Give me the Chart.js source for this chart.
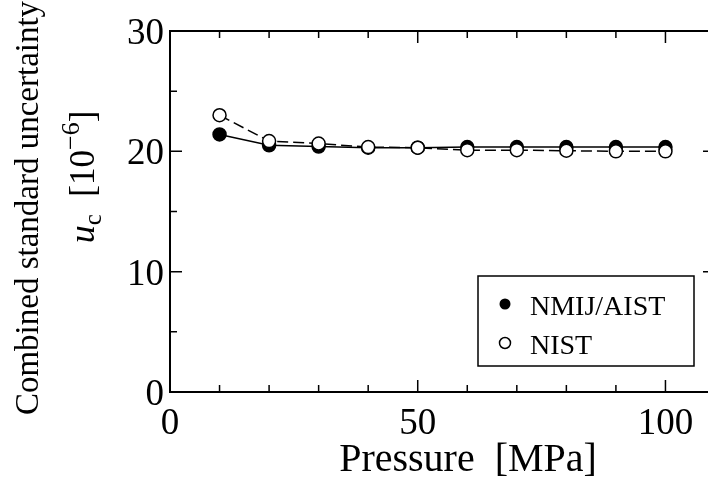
<!DOCTYPE html>
<html><head><meta charset="utf-8">
<script src="https://cdn.jsdelivr.net/npm/chart.js@4/dist/chart.umd.min.js"></script>
<style>html,body{margin:0;padding:0;background:#fff;overflow:hidden;width:708px;height:477px}#c{display:block}</style>
</head><body>
<canvas id="c" width="716" height="477" style="width:716px;height:477px"></canvas>
<script>
const pressure = [10,20,30,40,50,60,70,80,90,100];
const nmijAist = [21.4,20.5,20.4,20.3,20.3,20.35,20.35,20.35,20.35,20.35];
const nist = [23.0,20.85,20.65,20.35,20.3,20.1,20.1,20.05,20.0,20.0];
const xMajorTicks = [0,50,100];
const xMinorTicks = [10,20,30,40,60,70,80,90];
const yMajorTicks = [0,10,20,30];
const yMinorTicks = [5,15,25];
const xTickLabels = ['0','50','100'];
const yTickLabels = ['0','10','20','30'];
const seriesNames = ['NMIJ/AIST','NIST'];

const SERIF = '"Liberation Serif","DejaVu Serif",serif';

const framePlugin = {
  id: 'frame',
  afterDraw(chart) {
    const ctx = chart.ctx, a = chart.chartArea;
    const xs = chart.scales.x, ys = chart.scales.y;
    ctx.save();
    ctx.strokeStyle = '#000';
    ctx.lineWidth = 2;
    ctx.strokeRect(a.left, a.top, a.right - a.left, a.bottom - a.top);
    ctx.lineWidth = 1.5;
    ctx.beginPath();
    const tick = (v, len, isX) => {
      if (isX) {
        const p = xs.getPixelForValue(v);
        ctx.moveTo(p, a.bottom); ctx.lineTo(p, a.bottom - len);
        ctx.moveTo(p, a.top); ctx.lineTo(p, a.top + len);
      } else {
        const p = ys.getPixelForValue(v);
        ctx.moveTo(a.left, p); ctx.lineTo(a.left + len, p);
        ctx.moveTo(a.right, p); ctx.lineTo(a.right - len, p);
      }
    };
    xMajorTicks.forEach(v => tick(v, 12, true));
    xMinorTicks.forEach(v => tick(v, 7, true));
    yMajorTicks.forEach(v => tick(v, 12, false));
    yMinorTicks.forEach(v => tick(v, 7, false));
    ctx.stroke();

    // tick labels
    ctx.fillStyle = '#000';
    ctx.font = '37px ' + SERIF;
    ctx.textBaseline = 'alphabetic';
    ctx.textAlign = 'center';
    xMajorTicks.forEach((v, i) => ctx.fillText(xTickLabels[i], xs.getPixelForValue(v), 434));
    ctx.textAlign = 'right';
    yMajorTicks.forEach((v, i) => ctx.fillText(yTickLabels[i], 164, ys.getPixelForValue(v) + 13));

    // x title
    ctx.textAlign = 'center';
    ctx.font = '40px ' + SERIF;
    ctx.fillText('Pressure  [MPa]', 468, 471);

    // y title line 1
    ctx.save();
    ctx.translate(38, 208);
    ctx.rotate(-Math.PI / 2);
    ctx.font = '33px ' + SERIF;
    ctx.textAlign = 'center';
    ctx.fillText('Combined standard uncertainty', 0, 0);
    ctx.restore();

    // y title line 2 (u_c [10^-6])
    ctx.save();
    ctx.translate(94, 177);
    ctx.rotate(-Math.PI / 2);
    ctx.textAlign = 'left';
    const parts = [
      {t: 'u', f: 'italic 36px ' + SERIF, dy: 0},
      {t: 'c', f: '25px ' + SERIF, dy: 7},
      {t: '  [10', f: '35px ' + SERIF, dy: 0},
      {t: '\u22126', f: '26px ' + SERIF, dy: -15},
      {t: ']', f: '35px ' + SERIF, dy: 0}
    ];
    let total = 0;
    parts.forEach(p => { ctx.font = p.f; p.w = ctx.measureText(p.t).width; total += p.w; });
    let x = -total / 2;
    parts.forEach(p => { ctx.font = p.f; ctx.fillText(p.t, x, p.dy); x += p.w; });
    ctx.restore();

    // legend
    ctx.lineWidth = 1.5;
    ctx.strokeRect(478, 276, 216, 90);
    ctx.beginPath(); ctx.arc(505, 304, 5.5, 0, Math.PI * 2); ctx.fill();
    ctx.beginPath(); ctx.arc(505, 343, 5.5, 0, Math.PI * 2);
    ctx.fillStyle = '#fff'; ctx.fill(); ctx.stroke();
    ctx.fillStyle = '#000';
    ctx.font = '28px ' + SERIF;
    ctx.textAlign = 'left';
    ctx.fillText(seriesNames[0], 530, 315);
    ctx.fillText(seriesNames[1], 530, 354);
    ctx.restore();
  }
};

new Chart(document.getElementById('c'), {
  type: 'line',
  data: {
    datasets: [
      {
        label: seriesNames[1],
        data: pressure.map((p, i) => ({x: p, y: nist[i]})),
        borderColor: '#000', borderWidth: 1.5, borderDash: [11, 5],
        pointRadius: 6.5, pointBorderWidth: 1.5,
        pointBackgroundColor: '#fff', pointBorderColor: '#000',
        tension: 0, fill: false
      },
      {
        label: seriesNames[0],
        data: pressure.map((p, i) => ({x: p, y: nmijAist[i]})),
        borderColor: '#000', borderWidth: 1.5,
        pointRadius: 6.5, pointBorderWidth: 1.5,
        pointBackgroundColor: '#000', pointBorderColor: '#000',
        tension: 0, fill: false
      }
    ]
  },
  options: {
    responsive: false,
    animation: false,
    devicePixelRatio: 1,
    layout: {autoPadding: false, padding: {left: 170, top: 31, right: 1, bottom: 85}},
    plugins: {legend: {display: false}, tooltip: {enabled: false}},
    scales: {
      x: {type: 'linear', min: 0, max: 110, display: false},
      y: {type: 'linear', min: 0, max: 30, display: false}
    }
  },
  plugins: [framePlugin]
});
</script>
</body></html>
